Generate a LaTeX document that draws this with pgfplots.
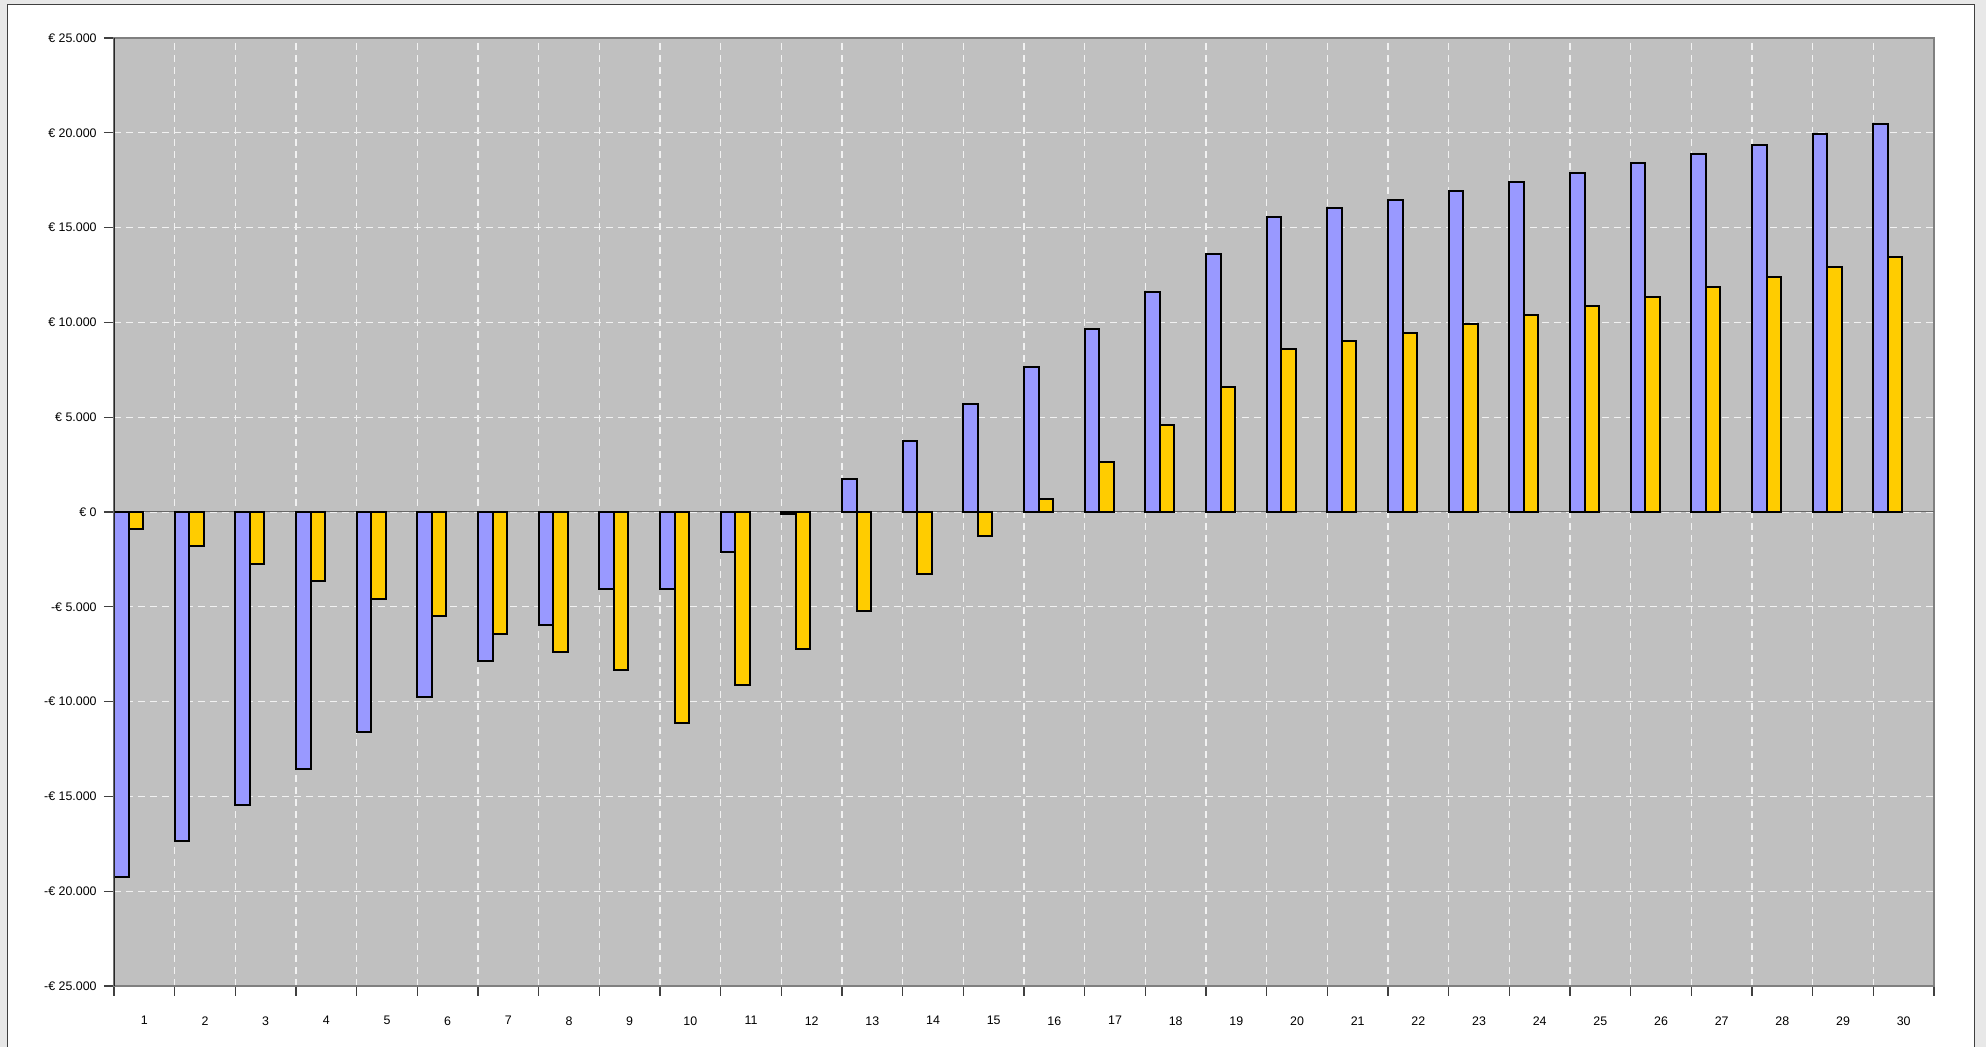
\documentclass[border=0pt]{standalone}
\usepackage{fontspec}
\setmainfont{Liberation Sans}
\usepackage{pgfplots}
\usepackage{pgfplotstable}
\pgfplotsset{compat=1.18}
\definecolor{barblue}{HTML}{9999FF}
\definecolor{baryellow}{HTML}{FFCC00}
\definecolor{plotbg}{HTML}{C0C0C0}
\definecolor{shotbg}{HTML}{E8E8E8}

\pgfplotstableread{
x blue yellow
1 -19240 -880
2 -17340 -1800
3 -15430 -2720
4 -13530 -3630
5 -11620 -4570
6 -9750 -5500
7 -7850 -6420
8 -5960 -7370
9 -4070 -8310
10 -4070 -11130
11 -2130 -9150
12 -120 -7200
13 1760 -5200
14 3720 -3250
15 5690 -1270
16 7660 670
17 9630 2640
18 11620 4600
19 13600 6590
20 15570 8580
21 16010 9000
22 16470 9440
23 16920 9890
24 17400 10370
25 17870 10860
26 18380 11350
27 18880 11850
28 19380 12370
29 19930 12920
30 20470 13460
}\cashflow

\begin{document}
\begin{tikzpicture}
\fill[shotbg] (-57pt,-30.5pt) rectangle (936pt,493pt);
\fill[white] (-53pt,-30.5pt) rectangle (930pt,490.5pt);
\draw[black!75,line width=0.5pt] (-53pt,-30.5pt) |- (930pt,490.5pt) -- (930pt,-30.5pt);
\begin{axis}[
  at={(0pt,0pt)}, anchor=south west,
  scale only axis, width=910pt, height=474pt,
  xmin=0.5, xmax=30.5, ymin=-25000, ymax=25000,
  axis background/.style={fill=plotbg},
  axis line style={draw=black!50, line width=1pt},
  tick align=outside, major tick length=5pt, minor tick length=5pt,
  tick style={black!75, line width=0.6pt},
  xtick pos=bottom, ytick pos=left,
  scaled y ticks=false,
  xtick={1,...,30}, major x tick style={draw=none},
  minor xtick={0.5,1.5,...,30.5},
  ytick={-25000,-20000,...,25000},
  yticklabels={-€ 25.000,-€ 20.000,-€ 15.000,-€ 10.000,-€ 5.000,€ 0,€ 5.000,€ 10.000,€ 15.000,€ 20.000,€ 25.000},
  ymajorgrids, xminorgrids,
  major grid style={white!95!black, dash pattern=on 3.5pt off 2.5pt, line width=0.6pt},
  minor grid style={white!95!black, dash pattern=on 3.5pt off 2.5pt, line width=0.6pt},
  ticklabel style={font=\fontsize{6.2}{7}\selectfont},
  /pgf/number format/assume math mode=true,
  yticklabel style={inner sep=0pt, xshift=-3.5pt},
  xticklabel style={inner sep=0pt, yshift=-10pt},
  extra y ticks={0}, extra y tick labels={},
  extra y tick style={major tick length=0pt, major grid style={solid, black!60, line width=0.5pt}},
  ybar, bar width=0.24,
  every axis plot/.append style={draw=black, line width=1pt},
]
\addplot[fill=barblue, bar shift=-0.38] table[x=x,y=blue]{\cashflow};
\addplot[fill=baryellow, bar shift=-0.14] table[x=x,y=yellow]{\cashflow};
\draw[black!85, line width=1pt] (rel axis cs:0,0) -- (rel axis cs:0,1);
\end{axis}
\pgfresetboundingbox
\useasboundingbox (-57pt,-30.5pt) rectangle (936pt,493pt);
\end{tikzpicture}
\end{document}
